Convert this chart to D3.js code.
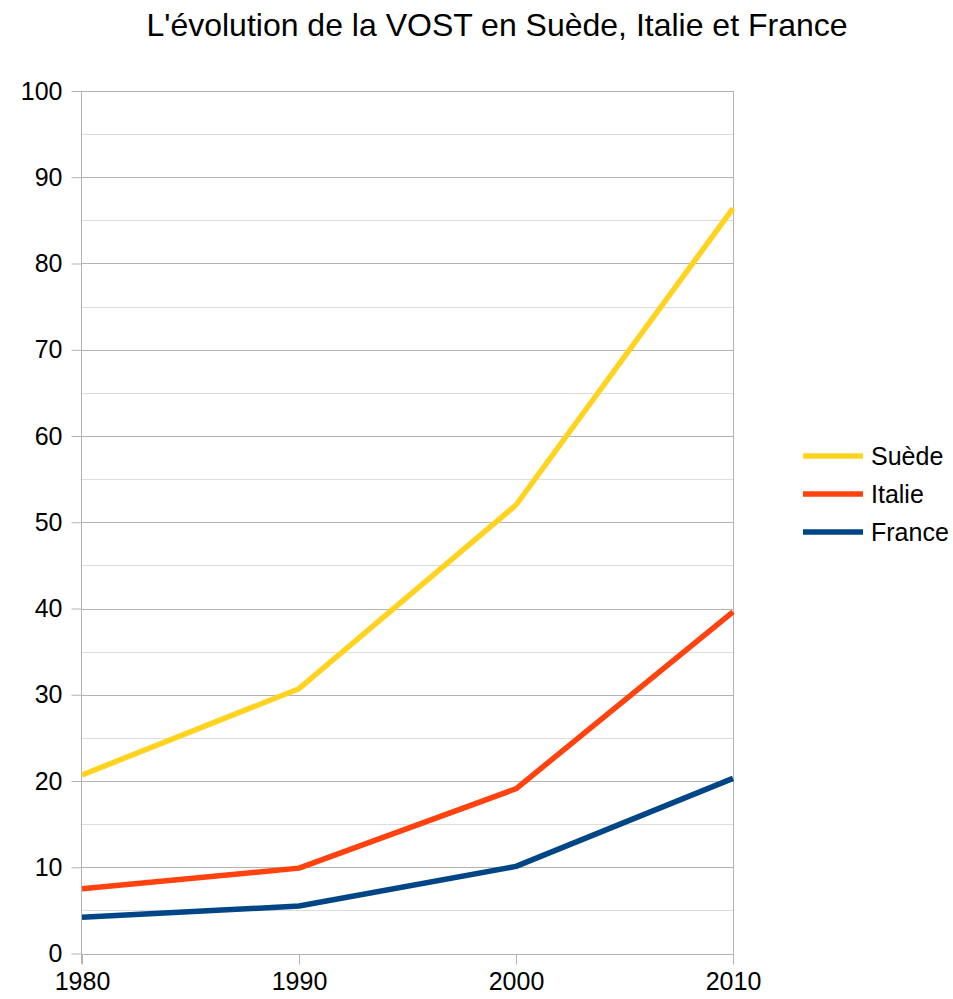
<!DOCTYPE html>
<html>
<head>
<meta charset="utf-8">
<script src="https://cdn.jsdelivr.net/npm/d3@7"></script>
<style>
  body { margin: 0; background: #fff; }
  svg { font-family: "Liberation Sans", Arial, sans-serif; }
</style>
</head>
<body>
<svg id="chart" width="953" height="999"></svg>
<script>
// Years on the x axis
const years = [1980, 1990, 2000, 2010];
// Share of subtitled original version (VOST), per country
const suede = [20.7, 30.7, 52.0, 86.4];
const italie = [7.5, 9.9, 19.1, 39.6];
const france = [4.2, 5.5, 10.1, 20.3];
const seriesNames = ["Suède", "Italie", "France"];
const seriesColors = ["#ffd320", "#ff420e", "#004586"];
const yTicks = [0, 10, 20, 30, 40, 50, 60, 70, 80, 90, 100];
const yMinor = [5, 15, 25, 35, 45, 55, 65, 75, 85, 95];
const title = "L'évolution de la VOST en Suède, Italie et France";

const series = [suede, italie, france];
const svg = d3.select("#chart");

const plotLeft = 82, plotRight = 733, plotTop = 91, plotBottom = 953.5;
const x = d3.scaleLinear().domain([1980, 2010]).range([plotLeft, plotRight]);
const y = d3.scaleLinear().domain([0, 100]).range([plotBottom, plotTop]);

// Title
svg.append("text")
  .attr("x", 497).attr("y", 36)
  .attr("text-anchor", "middle")
  .attr("font-size", 32)
  .attr("fill", "#000")
  .text(title);

// Minor gridlines
svg.append("g").selectAll("line").data(yMinor).join("line")
  .attr("x1", plotLeft).attr("x2", plotRight)
  .attr("y1", d => Math.round(y(d)) + 0.5).attr("y2", d => Math.round(y(d)) + 0.5)
  .attr("stroke", "#dddddd").attr("stroke-width", 1);

// Major gridlines
svg.append("g").selectAll("line").data(yTicks).join("line")
  .attr("x1", plotLeft).attr("x2", plotRight)
  .attr("y1", d => Math.round(y(d)) + 0.5).attr("y2", d => Math.round(y(d)) + 0.5)
  .attr("stroke", "#b3b3b3").attr("stroke-width", 1);

// Right border of the plot area
svg.append("line")
  .attr("x1", plotRight + 0.5).attr("x2", plotRight + 0.5)
  .attr("y1", plotTop).attr("y2", plotBottom + 10)
  .attr("stroke", "#b3b3b3");

// Y axis
const yAxis = d3.axisLeft(y).tickValues(yTicks).tickSize(10).tickPadding(9).tickFormat(d3.format("d"));
const gy = svg.append("g").attr("transform", `translate(${plotLeft - 0.5},0)`).call(yAxis);
gy.select(".domain").attr("stroke", "#b3b3b3").attr("d", `M0,${plotTop}V${plotBottom + 10}`);
gy.selectAll(".tick line").attr("stroke", "#b3b3b3");
gy.selectAll(".tick text").attr("font-size", 25).attr("fill", "#000")
  .attr("font-family", "Liberation Sans, Arial, sans-serif");

// X axis
const xAxis = d3.axisBottom(x).tickValues(years).tickSize(10).tickPadding(8).tickFormat(d3.format("d"));
const gx = svg.append("g").attr("transform", `translate(0,${Math.round(plotBottom) + 0.5})`).call(xAxis);
gx.select(".domain").attr("stroke", "#b3b3b3").attr("d", `M${plotLeft},0H${plotRight}`);
gx.selectAll(".tick line").attr("stroke", "#b3b3b3");
gx.selectAll(".tick text").attr("font-size", 25).attr("fill", "#000")
  .attr("font-family", "Liberation Sans, Arial, sans-serif");

// Lines
const line = d3.line().x((d, i) => x(years[i])).y(d => y(d));
series.forEach((s, k) => {
  svg.append("path")
    .datum(s)
    .attr("d", line)
    .attr("fill", "none")
    .attr("stroke", seriesColors[k])
    .attr("stroke-width", 5.5)
    .attr("stroke-linejoin", "round");
});

// Legend
const legend = svg.append("g");
seriesNames.forEach((name, k) => {
  const ly = 456 + k * 38;
  legend.append("line")
    .attr("x1", 803).attr("x2", 863)
    .attr("y1", ly).attr("y2", ly)
    .attr("stroke", seriesColors[k]).attr("stroke-width", 5.5);
  legend.append("text")
    .attr("x", 871).attr("y", ly + 9)
    .attr("font-size", 25).attr("fill", "#000")
    .text(name);
});
</script>
</body>
</html>
